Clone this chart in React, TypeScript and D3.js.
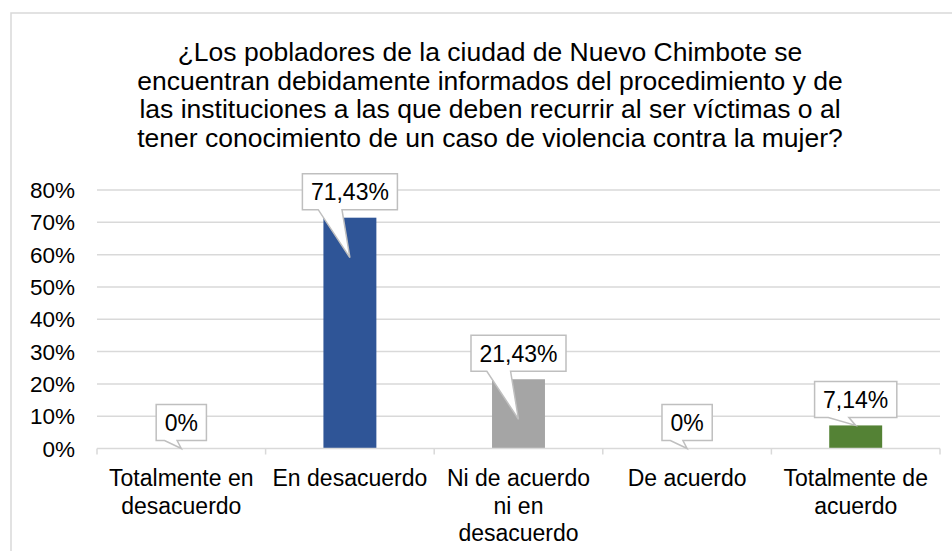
import React from "react";
import * as d3 from "d3";

const titleLines = [
  "¿Los pobladores de la ciudad de Nuevo Chimbote se",
  "encuentran debidamente informados del procedimiento y de",
  "las instituciones a las que deben recurrir al ser víctimas o al",
  "tener conocimiento de un caso de violencia contra la mujer?",
];
const categories = [
  "Totalmente en desacuerdo",
  "En desacuerdo",
  "Ni de acuerdo ni en desacuerdo",
  "De acuerdo",
  "Totalmente de acuerdo",
];
const categoryLines = [
  ["Totalmente en", "desacuerdo"],
  ["En desacuerdo"],
  ["Ni de acuerdo", "ni en", "desacuerdo"],
  ["De acuerdo"],
  ["Totalmente de", "acuerdo"],
];
const values = [0, 0.7143, 0.2143, 0, 0.0714];
const valueLabels = ["0%", "71,43%", "21,43%", "0%", "7,14%"];
const barColors = ["#4472c4", "#2f5597", "#a5a5a5", "#ffc000", "#548235"];
const yTicks = [0, 0.1, 0.2, 0.3, 0.4, 0.5, 0.6, 0.7, 0.8];

const FONT = "'Liberation Sans', Arial, sans-serif";
const W = 952;
const H = 551;

// rough text width using a canvas
function textWidth(s: string, size: number) {
  const c = document.createElement("canvas").getContext("2d");
  if (!c) return s.length * size * 0.55;
  c.font = `${size}px ${FONT}`;
  return c.measureText(s).width;
}

export default function App() {
  const x = d3
    .scaleBand()
    .domain(categories)
    .range([97, 940])
    .paddingInner(0.686)
    .paddingOuter(0.343);
  const y = d3.scaleLinear().domain([0, 0.8]).range([448.5, 190]);
  const step = x.step();
  const y0 = y(0);

  return (
    <svg
      width={W}
      height={H}
      style={{ position: "absolute", left: 0, top: 0, background: "#fff" }}
      fontFamily={FONT}
    >
      <rect x={11} y={13} width={980} height={600} fill="#fff" stroke="#d9d9d9" strokeWidth={1.5} />

      {/* title */}
      <text x={490} y={61} textAnchor="middle" fontSize={26.5} fill="#000">
        {titleLines.map((l, i) => (
          <tspan key={i} x={490} dy={i === 0 ? 0 : 28.6}>
            {l}
          </tspan>
        ))}
      </text>

      {/* gridlines */}
      {yTicks
        .filter((t) => t > 0)
        .map((t) => (
          <line key={t} x1={97} x2={940} y1={y(t)} y2={y(t)} stroke="#d9d9d9" strokeWidth={1.5} />
        ))}

      {/* y labels */}
      {yTicks.map((t) => (
        <text key={t} x={75} y={y(t)} dy="0.36em" textAnchor="end" fontSize={22.5} fill="#000">
          {d3.format(".0%")(t)}
        </text>
      ))}

      {/* bars */}
      {categories.map((c, i) => (
        <rect
          key={c}
          x={x(c)}
          y={y(values[i])}
          width={x.bandwidth()}
          height={y0 - y(values[i])}
          fill={barColors[i]}
        />
      ))}

      {/* x axis */}
      <line x1={97} x2={940} y1={y0} y2={y0} stroke="#d9d9d9" strokeWidth={1.5} />
      {d3.range(categories.length + 1).map((i) => (
        <line key={i} x1={97 + i * step} x2={97 + i * step} y1={y0} y2={y0 + 6} stroke="#d9d9d9" strokeWidth={1.5} />
      ))}

      {/* category labels */}
      {categories.map((c, i) => {
        const cx = (x(c) || 0) + x.bandwidth() / 2;
        return (
          <text key={c} x={cx} y={486} textAnchor="middle" fontSize={23} fill="#000">
            {categoryLines[i].map((l, j) => (
              <tspan key={j} x={cx} dy={j === 0 ? 0 : 27.5}>
                {l}
              </tspan>
            ))}
          </text>
        );
      })}

      {/* callout labels */}
      {categories.map((c, i) => {
        const v = values[i];
        const cx = (x(c) || 0) + x.bandwidth() / 2;
        const w = textWidth(valueLabels[i], 23) + 17;
        const bot = y(v) - 8;
        const top = bot - 36;
        const left = cx - w / 2;
        const tipY = y(v) + (v >= 0.2 ? 40 : 0);
        const path = `M${left},${top}H${left + w}V${bot}H${left + (w * 5) / 12}L${cx},${tipY}L${left + (w * 2) / 12},${bot}H${left}Z`;
        return (
          <g key={c}>
            <path d={path} fill="#fff" stroke="#bfbfbf" strokeWidth={1.5} />
            <text x={cx} y={(top + bot) / 2} dy="0.36em" textAnchor="middle" fontSize={23} fill="#000">
              {valueLabels[i]}
            </text>
          </g>
        );
      })}
    </svg>
  );
}
